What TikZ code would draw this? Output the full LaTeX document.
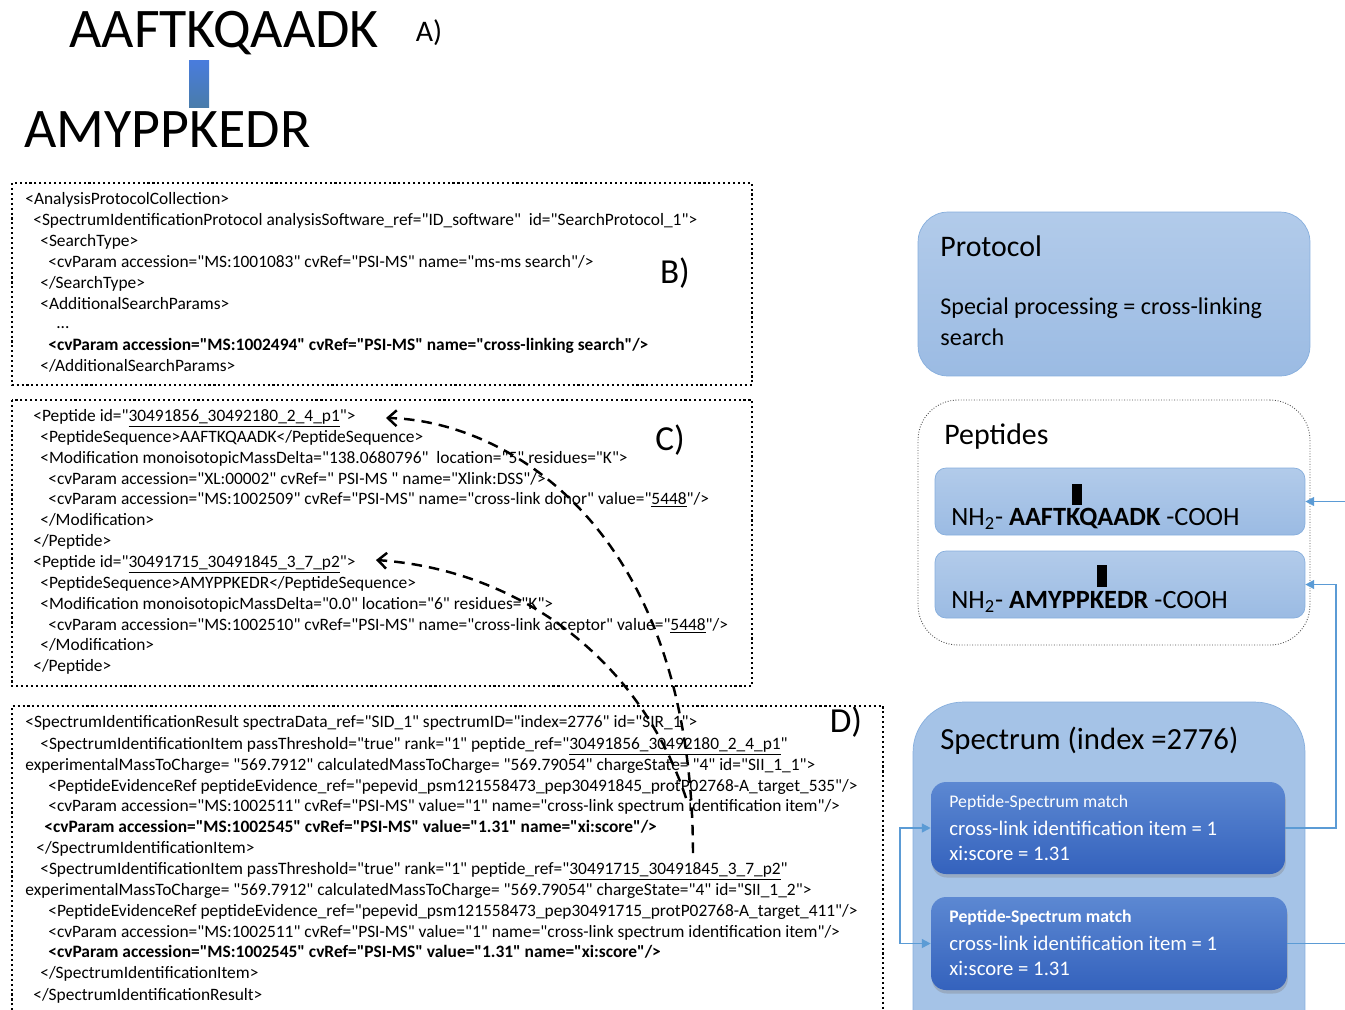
\documentclass[tikz,border=0pt]{standalone}
\usepackage{fontspec}
\setmainfont{Carlito}[Ligatures=TeXOff]
\usetikzlibrary{arrows.meta,shadows}

\definecolor{linkblue}{HTML}{5B9BD5}
\definecolor{boxtop}{HTML}{B2CBEA}
\definecolor{boxbot}{HTML}{9BBBE3}
\definecolor{boxline}{HTML}{86AEDD}
\definecolor{psmtop}{HTML}{5C88D2}
\definecolor{psmbot}{HTML}{3462BD}
\definecolor{specfill}{HTML}{A5C3E7}

\tikzset{
  xml/.style={anchor=west, inner sep=0pt, text height=1.6ex, text depth=.4ex, font=\fontsize{9.9}{11}\selectfont},
  xmlbold/.style={xml, font=\fontsize{9.9}{11}\selectfont\bfseries},
  dotbox/.style={line width=1.3pt, dash pattern=on 1.2pt off 1.6pt},
  panel/.style={inner sep=0pt, font=\fontsize{20}{24}\selectfont},
  bigseq/.style={anchor=west, inner sep=0pt, font=\fontsize{31.8}{36}\selectfont},
  lightbox/.style={draw=boxline, top color=boxtop, bottom color=boxbot},
  psmbox/.style={draw=none, top color=psmtop, bottom color=psmbot, rounded corners=0.3cm,
    drop shadow={opacity=0.35, shadow xshift=0.5pt, shadow yshift=-2pt}},
  boxtitle/.style={anchor=west, inner sep=0pt, font=\fontsize{17}{20}\selectfont},
  boxtext/.style={anchor=west, inner sep=0pt, font=\fontsize{13.7}{16}\selectfont},
  peptext/.style={anchor=west, inner sep=0pt, font=\fontsize{15}{18}\selectfont},
  psmtext/.style={anchor=west, inner sep=0pt, text=white, font=\fontsize{11.8}{14}\selectfont},
  psmhead/.style={psmtext, font=\fontsize{10.1}{12}\selectfont},
  link/.style={linkblue, line width=0.9pt},
  xref/.style={line width=1.4pt, dash pattern=on 6pt off 4pt, -{Straight Barb[length=5pt,width=9pt]}}
}

\begin{document}
\begin{tikzpicture}[x=0.02cm, y=-0.02cm]
\useasboundingbox (0,0) rectangle (1345,1009);

% A) cross-linked peptides
\node [bigseq] (seqa) at (69,33) {AAFTKQAADK};
\node [bigseq] (seqb) at (24,130) {AMYPPKEDR};
\node [panel, font=\fontsize{17}{20}\selectfont] (labA) at (429,33) {A)};
\shade [top color=blue!20!linkblue, bottom color=linkblue!80!black] (189,60) rectangle (209,107);

% B) protocol
\draw [dotbox] (12,183) rectangle (752,385);
\node [xml] (b1) at (25,199) {<AnalysisProtocolCollection>};
\node [xml] (b2) at (33,220) {<SpectrumIdentificationProtocol analysisSoftware\_ref="ID\_software"~ id="SearchProtocol\_1">};
\node [xml] (b3) at (40,241) {<SearchType>};
\node [xml] (b4) at (48,262) {<cvParam accession="MS:1001083" cvRef="PSI-MS" name="ms-ms search"/>};
\node [xml] (b5) at (40,283) {</SearchType>};
\node [xml] (b6) at (40,304) {<AdditionalSearchParams>};
\node [xml] (b7) at (56,323) {...};
\node [xmlbold] (b8) at (48,345) {<cvParam accession="MS:1002494" cvRef="PSI-MS" name="cross-linking search"/>};
\node [xml] (b9) at (40,366) {</AdditionalSearchParams>};
\node [panel] (labB) at (675,273) {B)};

% C) peptides
\draw [dotbox] (12,400) rectangle (752,686);
\node [xml] (c1) at (33,416) {<Peptide id="\underline{30491856\_30492180\_2\_4\_p1}">};
\node [xml] (c2) at (40,437) {<PeptideSequence>AAFTKQAADK</PeptideSequence>};
\node [xml] (c3) at (40,458) {<Modification monoisotopicMassDelta="138.0680796"~ location="5" residues="K">};
\node [xml] (c4) at (48,479) {<cvParam accession="XL:00002" cvRef=" PSI-MS " name="Xlink:DSS"/>};
\node [xml] (c5) at (48,499) {<cvParam accession="MS:1002509" cvRef="PSI-MS" name="cross-link donor" value="\underline{5448}"/>};
\node [xml] (c6) at (40,520) {</Modification>};
\node [xml] (c7) at (33,541) {</Peptide>};
\node [xml] (c8) at (33,562) {<Peptide id="\underline{30491715\_30491845\_3\_7\_p2}">};
\node [xml] (c9) at (40,583) {<PeptideSequence>AMYPPKEDR</PeptideSequence>};
\node [xml] (c10) at (40,604) {<Modification monoisotopicMassDelta="0.0" location="6" residues="K">};
\node [xml] (c11) at (48,625) {<cvParam accession="MS:1002510" cvRef="PSI-MS" name="cross-link acceptor" value="\underline{5448}"/>};
\node [xml] (c12) at (40,645) {</Modification>};
\node [xml] (c13) at (33,666) {</Peptide>};
\node [panel] (labC) at (670,440) {C)};

% D) spectrum identification result
\draw [dotbox] (12,1030) -- (12,706) -- (883,706) -- (883,1030);
\node [xml] (d1) at (25,722) {<SpectrumIdentificationResult spectraData\_ref="SID\_1" spectrumID="index=2776" id="SIR\_1">};
\node [xml] (d2) at (40,744) {<SpectrumIdentificationItem passThreshold="true" rank="1" peptide\_ref="\underline{30491856\_30492180\_2\_4\_p1}"};
\node [xml] (d3) at (25,765) {experimentalMassToCharge= "569.7912" calculatedMassToCharge= "569.79054" chargeState= "4" id="SII\_1\_1">};
\node [xml] (d4) at (48,786) {<PeptideEvidenceRef peptideEvidence\_ref="pepevid\_psm121558473\_pep30491845\_protP02768-A\_target\_535"/>};
\node [xml] (d5) at (48,806) {<cvParam accession="MS:1002511" cvRef="PSI-MS" value="1" name="cross-link spectrum identification item"/>};
\node [xmlbold] (d6) at (44,827) {<cvParam accession="MS:1002545" cvRef="PSI-MS" value="1.31" name="xi:score"/>};
\node [xml] (d7) at (36,848) {</SpectrumIdentificationItem>};
\node [xml] (d8) at (40,869) {<SpectrumIdentificationItem passThreshold="true" rank="1" peptide\_ref="\underline{30491715\_30491845\_3\_7\_p2}"};
\node [xml] (d9) at (25,890) {experimentalMassToCharge= "569.7912" calculatedMassToCharge= "569.79054" chargeState="4" id="SII\_1\_2">};
\node [xml] (d10) at (48,911) {<PeptideEvidenceRef peptideEvidence\_ref="pepevid\_psm121558473\_pep30491715\_protP02768-A\_target\_411"/>};
\node [xml] (d11) at (48,932) {<cvParam accession="MS:1002511" cvRef="PSI-MS" value="1" name="cross-link spectrum identification item"/>};
\node [xmlbold] (d12) at (48,952) {<cvParam accession="MS:1002545" cvRef="PSI-MS" value="1.31" name="xi:score"/>};
\node [xml] (d13) at (40,973) {</SpectrumIdentificationItem>};
\node [xml] (d14) at (33,995) {</SpectrumIdentificationResult>};
\node [panel] (labD) at (846,722) {D)};

% dashed references from the items to the peptides
\coordinate (from1) at (693,853);
\coordinate (to1) at (386,418);
\coordinate (from2) at (686,798);
\coordinate (to2) at (376,560);
\draw [xref] (from1) .. controls (692,520) and (500,420) .. (to1);
\draw [xref] (from2) .. controls (640,660) and (520,570) .. (to2);

% right hand side: protocol
\node [lightbox, rounded corners=0.6cm, minimum width=7.84cm, minimum height=3.28cm] (protocol) at (1114,294) {};
\node [boxtitle] (protot) at (940,246) {Protocol};
\node [boxtext] (proto1) at (940,308) {Special processing = cross-linking};
\node [boxtext] (proto2) at (940,337) {search};

% peptides
\node [draw=black!70, densely dotted, line width=0.5pt, rounded corners=0.8cm, minimum width=7.84cm, minimum height=4.9cm] (peptides) at (1114,522.5) {};
\node [boxtitle] (peptt) at (944,437) {Peptides};
\node [lightbox, rounded corners=0.22cm, minimum width=7.4cm, minimum height=1.34cm] (pep1) at (1120,501.5) {};
\node [lightbox, rounded corners=0.22cm, minimum width=7.4cm, minimum height=1.34cm] (pep2) at (1120,584.5) {};
\node [peptext] (pep1t) at (951,519) {NH\textsubscript{2}- \textbf{AAFTKQAADK} -COOH};
\node [peptext] (pep2t) at (951,602) {NH\textsubscript{2}- \textbf{AMYPPKEDR} -COOH};
\fill (1072,484) rectangle (1082,505);
\fill (1097,565) rectangle (1107,587);

% spectrum
\node [draw=boxline, fill=specfill, rounded corners=1cm, minimum width=7.84cm, minimum height=7.2cm] (spectrum) at (1109,882) {};
\node [boxtitle, font=\fontsize{17.5}{20}\selectfont] (spect) at (940,741) {Spectrum (index =2776)};
\node [psmbox, minimum width=7.08cm, minimum height=1.84cm] (psm1) at (1108,828) {};
\node [psmbox, minimum width=7.12cm, minimum height=1.86cm] (psm2) at (1109,943.5) {};
\node [psmhead] (psm1a) at (949,803) {Peptide-Spectrum match};
\node [psmtext] (psm1b) at (949,828) {cross-link identification item = 1};
\node [psmtext] (psm1c) at (949,853) {xi:score = 1.31};
\node [psmhead, font=\fontsize{10.1}{12}\selectfont\bfseries] (psm2a) at (949,918) {Peptide-Spectrum match};
\node [psmtext] (psm2b) at (949,943) {cross-link identification item = 1};
\node [psmtext] (psm2c) at (949,968) {xi:score = 1.31};

% links between the boxes
\draw [link, -{Triangle[length=5pt,width=5pt]}] (psm1.east) -- (1336,828) |- (pep2.east);
\draw [link, -{Triangle[length=5pt,width=5pt]}] (psm2.east) -- (1365,943.5) |- (pep1.east);
\draw [link, {Triangle[length=5pt,width=5pt]}-{Triangle[length=5pt,width=5pt]}] (psm1.west) -- (900,828) |- (psm2.west);
\end{tikzpicture}
\end{document}
